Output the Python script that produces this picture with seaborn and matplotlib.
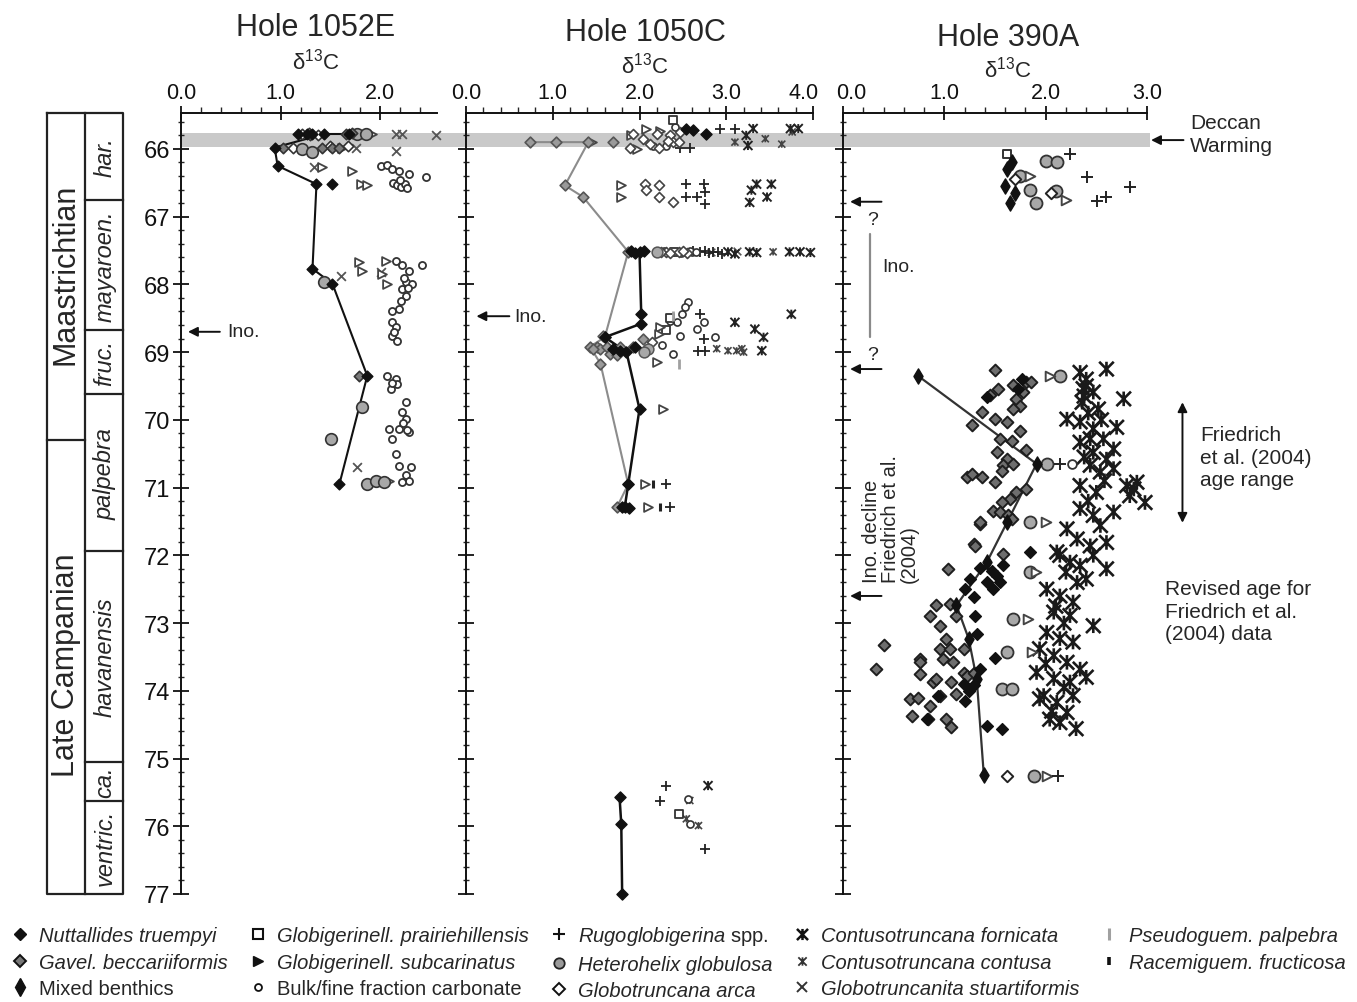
import matplotlib
matplotlib.use("Agg")
import matplotlib.pyplot as plt
import matplotlib.transforms as mtransforms
from matplotlib.lines import Line2D
from matplotlib.path import Path
from matplotlib.patches import Rectangle
from matplotlib.ticker import MultipleLocator, FormatStrFormatter
import pandas as pd
import seaborn as sns

# ----------------------------------------------------------------- data
# every point is (delta13C permil, age Ma)
# ---- Hole 1052E
e1052_nutt_line = [(1.69, 65.78), (1.44, 65.78), (0.94, 65.98), (0.97, 66.25), (1.36, 66.52),
                   (1.32, 67.77), (1.52, 67.99), (1.87, 69.35), (1.59, 70.95)]
e1052_nutt_other = [(1.17, 65.78), (1.26, 65.78), (1.32, 65.78), (1.52, 66.52)]
e1052_gavel = [(1.02, 65.98), (1.66, 65.78), (1.72, 65.76), (1.42, 65.98), (1.52, 65.98),
               (1.59, 65.98), (1.79, 69.35), (1.30, 65.80)]
e1052_hetero = [(1.21, 66.00), (1.32, 66.05), (1.44, 67.97), (1.82, 69.81), (1.51, 70.28),
                (1.87, 70.95), (1.96, 70.90), (2.04, 70.92), (1.77, 65.78), (1.86, 65.78)]
e1052_subcar = [(1.92, 65.78), (1.42, 66.27), (1.72, 66.32), (1.81, 66.52), (1.87, 66.54),
                (1.79, 67.67), (1.82, 67.80), (2.06, 67.65), (2.02, 67.85), (2.07, 67.99),
                (2.09, 70.90), (1.62, 65.98)]
e1052_bulk = [(2.01, 66.25), (2.07, 66.24), (2.12, 66.30), (2.19, 66.33), (2.29, 66.37),
              (2.46, 66.41), (2.13, 66.50), (2.17, 66.54), (2.21, 66.56), (2.25, 66.52),
              (2.27, 66.57), (2.20, 66.46), (2.16, 67.65), (2.22, 67.72), (2.42, 67.72),
              (2.29, 67.80), (2.26, 67.97), (2.32, 68.00), (2.22, 68.07), (2.26, 68.17),
              (2.21, 68.24), (2.28, 68.05), (2.24, 67.90), (2.12, 68.39), (2.19, 68.37),
              (2.12, 68.56), (2.16, 68.63), (2.12, 68.76), (2.17, 68.83), (2.14, 68.70),
              (2.07, 69.35), (2.16, 69.40), (2.11, 69.54), (2.17, 69.47), (2.12, 69.45),
              (2.26, 69.74), (2.22, 69.89), (2.26, 69.99), (2.19, 70.13), (2.29, 70.18),
              (2.09, 70.13), (2.12, 70.28), (2.23, 70.05), (2.27, 70.15), (2.16, 70.50),
              (2.19, 70.68), (2.31, 70.70), (2.26, 70.82), (2.29, 70.90), (2.22, 70.92)]
e1052_stuart = [(2.16, 65.78), (2.22, 65.78), (2.56, 65.80), (1.76, 65.98), (2.16, 66.03),
                (1.34, 66.27), (1.61, 67.87), (2.01, 67.82), (1.77, 70.70)]
e1052_arca = [(1.21, 65.78), (1.28, 65.76), (1.38, 65.79), (1.12, 65.98), (1.50, 65.96),
              (1.68, 65.96)]

# ---- Hole 1050C
c1050_nutt_line = [(2.00, 67.52), (2.02, 68.44), (2.02, 68.58), (1.60, 68.78), (1.85, 69.00),
                   (2.00, 69.84), (1.87, 70.95), (1.83, 71.29)]
c1050_nutt_line_low = [(1.77, 75.57), (1.79, 75.97), (1.80, 77.00)]
c1050_nutt_other = [(1.90, 67.50), (1.95, 67.53), (2.05, 67.51), (2.54, 65.70), (2.62, 65.72),
                    (2.77, 65.78), (1.70, 68.95), (1.78, 68.98), (1.95, 68.93), (1.80, 71.29),
                    (1.88, 71.30)]
c1050_gavel_line = [(0.74, 65.90), (1.04, 65.90), (1.41, 65.90), (1.14, 66.54), (1.35, 66.71),
                    (1.87, 67.52), (1.60, 68.78), (1.43, 68.92), (1.55, 69.17), (1.87, 70.95),
                    (1.74, 71.29)]
c1050_gavel_other = [(1.70, 65.90), (1.51, 68.93), (1.54, 68.95), (1.62, 68.93), (1.70, 68.98),
                     (1.77, 68.93), (1.58, 68.76), (1.66, 69.03), (1.74, 69.05), (1.93, 68.93),
                     (2.04, 68.80), (1.46, 68.95)]
c1050_arca = [(1.93, 65.78), (2.04, 65.85), (2.20, 65.78), (2.22, 65.98), (2.35, 65.80),
              (2.39, 65.90), (2.47, 65.75), (1.89, 65.98), (2.12, 65.93), (2.33, 65.88),
              (2.45, 65.90), (2.06, 66.52), (2.22, 66.54), (2.08, 66.61), (2.22, 66.71),
              (2.39, 66.79), (2.30, 67.52), (2.14, 68.85), (2.55, 67.53), (2.25, 67.52),
              (2.35, 67.53), (2.45, 67.52), (2.50, 67.51)]
c1050_subcar = [(2.08, 65.70), (2.24, 65.73), (1.90, 65.80), (1.97, 66.00), (1.79, 66.54),
                (1.79, 66.71), (2.25, 67.52), (2.24, 68.63), (2.22, 68.73), (2.20, 69.15),
                (2.27, 69.84), (2.06, 70.95), (2.10, 71.29), (1.45, 65.90)]
c1050_prairie = [(2.39, 65.58), (2.31, 68.68), (2.45, 75.82), (2.40, 67.52), (2.35, 68.50)]
c1050_bulk = [(2.41, 65.68), (2.56, 68.26), (2.52, 68.34), (2.49, 68.44), (2.43, 68.56),
              (2.35, 68.54), (2.47, 68.76), (2.87, 68.78), (2.74, 68.56), (2.66, 68.66),
              (2.39, 69.03), (2.26, 68.90), (2.58, 75.97), (2.56, 75.60), (2.60, 67.52),
              (2.15, 65.95), (2.30, 65.95), (2.28, 67.50), (2.38, 67.52), (2.48, 67.53),
              (2.58, 67.50), (2.65, 67.52)]
c1050_rugo = [(2.93, 65.70), (3.10, 65.70), (2.47, 65.98), (2.58, 65.98), (2.54, 66.52),
              (2.74, 66.52), (2.54, 66.71), (2.66, 66.71), (2.76, 66.64), (2.76, 66.81),
              (2.70, 67.52), (2.85, 67.52), (2.95, 67.55), (2.75, 67.50), (2.80, 67.53),
              (2.90, 67.52), (2.62, 67.51), (2.70, 68.44), (2.74, 68.80), (2.76, 68.98),
              (2.68, 68.98), (2.31, 70.95), (2.35, 71.29), (2.31, 75.40), (2.24, 75.62),
              (2.75, 76.34)]
c1050_hetero = [(2.10, 68.95), (2.05, 69.00), (2.20, 67.52)]
c1050_fornicata = [(3.31, 65.70), (3.74, 65.70), (3.83, 65.70), (3.23, 65.80), (3.25, 65.95),
                   (3.35, 66.52), (3.52, 66.52), (3.29, 66.61), (3.47, 66.71), (3.27, 66.79),
                   (3.02, 67.52), (3.10, 67.55), (3.27, 67.52), (3.35, 67.53), (3.73, 67.52),
                   (3.85, 67.52), (3.97, 67.53), (3.10, 68.56), (3.33, 68.66), (3.43, 68.78),
                   (3.75, 68.44), (3.41, 68.98), (2.79, 75.40)]
c1050_contusa = [(3.10, 65.90), (3.45, 65.85), (3.64, 65.93), (3.76, 65.75), (3.54, 67.52),
                 (2.89, 68.95), (3.02, 68.98), (3.12, 68.98), (3.18, 68.95), (3.20, 69.00),
                 (2.58, 75.62), (2.68, 75.99), (2.54, 75.89)]
c1050_stuart = [(3.12, 67.50), (2.82, 67.52)]
c1050_pseudo = [(2.45, 69.17), (2.39, 68.46)]
c1050_racemi = [(2.16, 70.95), (2.24, 71.29)]

# ---- Hole 390A
a390_mixed_line = [(0.74, 69.35), (1.91, 70.65), (1.62, 71.51), (1.42, 72.10), (1.12, 72.74),
                   (1.24, 73.23), (1.32, 73.83), (1.39, 75.25)]
a390_mixed_other = [(1.67, 66.20), (1.62, 66.30), (1.60, 66.55), (1.65, 66.80), (1.70, 66.65)]
a390_nutt = [(1.25, 72.35), (1.29, 72.62), (1.30, 72.89), (1.20, 72.50), (1.32, 73.16),
             (1.50, 73.51), (1.19, 73.90), (1.29, 73.92), (1.24, 74.00), (1.20, 74.15),
             (0.94, 74.07), (0.83, 74.42), (1.42, 74.52), (1.57, 74.56), (1.35, 73.68),
             (1.85, 71.95), (1.47, 72.23), (1.52, 72.30), (1.42, 72.40), (1.55, 72.40),
             (1.48, 72.50), (1.35, 72.18), (1.58, 72.15), (1.77, 69.40), (1.73, 69.54),
             (1.42, 69.67)]
a390_gavel = [(1.50, 69.27), (1.53, 69.54), (1.45, 69.64), (1.68, 69.49), (1.71, 69.69),
              (1.78, 69.59), (1.81, 69.44), (1.86, 69.44), (1.75, 69.79), (1.68, 69.84),
              (1.37, 69.89), (1.50, 69.99), (1.62, 70.03), (1.27, 70.08), (1.75, 70.16),
              (1.55, 70.28), (1.67, 70.31), (1.81, 70.45), (1.52, 70.48), (1.62, 70.58),
              (1.58, 70.67), (1.68, 70.65), (1.57, 70.75), (1.22, 70.85), (1.27, 70.80),
              (1.37, 70.85), (1.50, 70.92), (1.81, 71.02), (1.71, 71.07), (1.65, 71.17),
              (1.57, 71.22), (1.48, 71.34), (1.55, 71.36), (1.63, 71.41), (1.67, 71.46),
              (1.35, 71.54), (1.29, 71.83), (1.58, 71.98), (1.35, 71.51), (1.30, 71.86),
              (1.04, 72.20), (0.92, 72.74), (0.86, 72.89), (0.40, 73.33), (0.33, 73.68),
              (0.76, 73.53), (0.76, 73.58), (0.99, 73.53), (1.09, 73.58), (0.96, 73.38),
              (1.02, 73.23), (0.76, 73.75), (0.66, 74.12), (0.74, 74.10), (0.68, 74.37),
              (0.86, 74.22), (0.84, 74.42), (1.02, 74.42), (1.07, 74.54), (1.12, 74.05),
              (0.96, 74.07), (0.89, 73.87), (1.07, 73.87), (1.19, 73.73), (1.22, 73.78),
              (1.06, 72.72), (0.96, 73.04), (1.12, 72.89), (1.06, 73.38), (0.92, 73.82),
              (1.19, 73.38), (1.29, 73.73)]
a390_hetero = [(2.14, 69.35), (2.01, 70.65), (1.85, 71.51), (1.85, 72.25), (1.68, 72.94),
               (1.62, 73.43), (1.57, 73.97), (1.67, 73.97), (1.88, 75.26), (1.75, 66.40),
               (1.85, 66.60), (1.90, 66.80), (2.10, 66.62), (2.00, 66.18), (2.11, 66.20)]
a390_subcar = [(2.04, 69.35), (2.00, 71.51), (1.83, 72.94), (1.87, 73.43), (2.01, 75.26),
               (1.85, 66.40), (2.20, 66.75), (1.90, 72.25)]
a390_bulk = [(2.26, 70.65)]
a390_rugo = [(2.14, 70.65), (2.12, 75.26), (2.24, 66.07), (2.41, 66.41), (2.51, 66.77),
             (2.60, 66.71), (2.83, 66.56)]
a390_arca = [(1.62, 75.26), (1.70, 66.45), (2.05, 66.65)]
a390_prairie = [(1.62, 66.07)]
a390_fornicata = [(2.34, 69.30), (2.40, 69.40), (2.60, 69.25), (2.37, 69.54), (2.47, 69.59),
                  (2.36, 69.74), (2.77, 69.69), (2.52, 69.84), (2.21, 69.99), (2.34, 70.03),
                  (2.70, 70.11), (2.47, 70.13), (2.44, 70.28), (2.57, 70.28), (2.34, 70.33),
                  (2.67, 70.43), (2.47, 70.48), (2.60, 70.58), (2.44, 70.67), (2.54, 70.77),
                  (2.67, 70.72), (2.34, 70.97), (2.50, 71.07), (2.80, 70.97), (2.90, 70.92),
                  (2.98, 71.22), (2.83, 71.12), (2.87, 71.02), (2.34, 71.31), (2.47, 71.41),
                  (2.67, 71.36), (2.21, 71.61), (2.31, 71.76), (2.54, 71.56), (2.60, 71.81),
                  (2.44, 71.86), (2.14, 72.00), (2.24, 72.10), (2.34, 72.15), (2.47, 72.00),
                  (2.60, 72.20), (2.11, 71.95), (2.31, 72.40), (2.01, 72.50), (2.14, 72.60),
                  (2.27, 72.69), (2.08, 72.84), (2.24, 72.89), (2.47, 73.04), (2.01, 73.14),
                  (2.14, 73.23), (2.27, 73.28), (1.94, 73.38), (2.08, 73.48), (2.21, 73.58),
                  (2.34, 73.68), (1.91, 73.73), (2.08, 73.82), (2.24, 73.87), (2.40, 73.80),
                  (1.98, 74.07), (2.11, 74.17), (2.27, 74.07), (1.94, 74.12), (2.04, 74.42),
                  (2.14, 74.47), (2.30, 74.56), (2.21, 74.32), (2.40, 69.50), (2.38, 69.65),
                  (2.42, 69.90), (2.55, 70.00), (2.38, 70.55), (2.58, 70.90), (2.42, 71.20),
                  (2.20, 72.25), (2.40, 72.35), (2.10, 72.75), (2.18, 73.00), (2.06, 74.30),
                  (2.18, 73.95), (2.00, 73.60)]

# stratigraphy (ages of boundaries, Ma)
stage_names = ["Maastrichtian", "Late Campanian"]
stage_bounds = [65.47, 70.30, 77.0]
zone_names = ["har.", "mayaroen.", "fruc.", "palpebra", "havanensis", "ca.", "ventric."]
zone_bounds = [65.47, 66.75, 68.67, 69.62, 71.94, 75.05, 75.62, 77.0]

hole_titles = ["Hole 1052E", "Hole 1050C", "Hole 390A"]
x_max = [2.57, 4.0, 3.0]
deccan_band = (65.76, 65.97)
age_top, age_bottom = 65.47, 77.0

legend_labels = ["Nuttallides truempyi", "Gavel. beccariiformis", "Mixed benthics",
                 "Globigerinell. prairiehillensis", "Globigerinell. subcarinatus",
                 "Bulk/fine fraction carbonate", r"$\mathit{Rugoglobigerina}$ spp.",
                 "Heterohelix globulosa", "Globotruncana arca", "Contusotruncana fornicata",
                 "Contusotruncana contusa", "Globotruncanita stuartiformis",
                 "Pseudoguem. palpebra", "Racemiguem. fructicosa"]
upright_labels = {"Mixed benthics", "Bulk/fine fraction carbonate",
                  r"$\mathit{Rugoglobigerina}$ spp."}

# ----------------------------------------------------------------- style
sns.set_style("white")
plt.rcParams["font.family"] = ["Liberation Sans", "DejaVu Sans"]
plt.rcParams["mathtext.fontset"] = "custom"
plt.rcParams["mathtext.rm"] = "Liberation Sans"
plt.rcParams["mathtext.it"] = "Liberation Sans:italic"
plt.rcParams["mathtext.bf"] = "Liberation Sans:bold"

W, H = 1357, 1003
fig = plt.figure(figsize=(W / 100, H / 100), dpi=100)
fig.patch.set_facecolor("white")

TOP_PX, BOT_PX = 114, 895


def fx(px):
    return px / W


def fy(py):
    return 1 - py / H


def rect(x0, x1):
    return [x0 / W, 1 - BOT_PX / H, (x1 - x0) / W, (BOT_PX - TOP_PX) / H]


# "zhe"-shaped marker: an X with a vertical bar through the centre
zhe = Path([(-1, -1), (1, 1), (-1, 1), (1, -1), (0, -1), (0, 1)],
           [Path.MOVETO, Path.LINETO, Path.MOVETO, Path.LINETO, Path.MOVETO, Path.LINETO])

EDGE = "#1e1e1e"
GRAY = "#8c8c8c"


def scat(ax, pts, marker, s, fc="none", ec=EDGE, lw=1.0, z=3):
    df = pd.DataFrame(pts, columns=["d13c", "age"])
    if marker in ("+", "x", "|"):
        sns.scatterplot(data=df, x="d13c", y="age", ax=ax, marker=marker, s=s,
                        color=ec, linewidth=lw, legend=False, zorder=z, clip_on=False)
    else:
        sns.scatterplot(data=df, x="d13c", y="age", ax=ax, marker=marker, s=s,
                        color=ec, facecolor=fc, edgecolor=ec, linewidth=lw,
                        legend=False, zorder=z, clip_on=False)


def line(ax, pts, color, lw):
    df = pd.DataFrame(pts, columns=["d13c", "age"])
    sns.lineplot(data=df, x="d13c", y="age", ax=ax, sort=False, estimator=None,
                 color=color, linewidth=lw, legend=False, zorder=2)


def setup(ax, xmax, show_y):
    ax.set_xlim(0, xmax)
    ax.set_ylim(age_bottom, age_top)
    ax.set_facecolor("none")
    ax.grid(False)
    for s in ("bottom", "right"):
        ax.spines[s].set_visible(False)
    for s in ("left", "top"):
        ax.spines[s].set_linewidth(1.4)
        ax.spines[s].set_color("#111111")
    ax.xaxis.tick_top()
    ax.xaxis.set_major_locator(MultipleLocator(1.0))
    ax.xaxis.set_minor_locator(MultipleLocator(0.2))
    ax.xaxis.set_major_formatter(FormatStrFormatter("%.1f"))
    ax.yaxis.set_major_locator(MultipleLocator(1))
    ax.yaxis.set_minor_locator(MultipleLocator(0.2))
    ax.tick_params(axis="x", which="major", direction="inout", length=10, width=1.3,
                   labelsize=15.5, pad=2, top=True, bottom=False, labeltop=True,
                   labelbottom=False, colors="#111111")
    ax.tick_params(axis="x", which="minor", direction="out", length=4, width=1.0,
                   top=True, bottom=False)
    ax.tick_params(axis="y", which="major", direction="inout", length=11, width=1.3,
                   labelsize=17, pad=2, left=True, right=False, labelleft=show_y,
                   colors="#111111")
    ax.tick_params(axis="y", which="minor", direction="inout", length=5, width=1.0,
                   left=True, right=False)
    ax.set_xlabel("")
    ax.set_ylabel("")


ax1 = fig.add_axes(rect(181, 437))
ax2 = fig.add_axes(rect(466, 813))
ax3 = fig.add_axes(rect(843, 1147))
axcol = fig.add_axes(rect(47, 123))

# ---- Hole 1052E
line(ax1, e1052_nutt_line, "#111111", 1.5)
scat(ax1, e1052_stuart, "x", 40, ec="#555555", lw=1.3)
scat(ax1, e1052_bulk, "o", 26, fc="white", ec="#333333", lw=1.3)
scat(ax1, e1052_subcar, ">", 40, fc="white", ec="#444444", lw=1.3)
scat(ax1, e1052_arca, "D", 28, fc="white", ec="#333333", lw=1.2)
scat(ax1, e1052_hetero, "o", 70, fc="#a8a8a8", ec="#333333", lw=1.2)
scat(ax1, e1052_gavel, "D", 28, fc="#7a7a7a", ec="#333333", lw=1.2)
scat(ax1, e1052_nutt_line, "D", 30, fc="#111111", ec="#111111")
scat(ax1, e1052_nutt_other, "D", 30, fc="#111111", ec="#111111")

# ---- Hole 1050C
line(ax2, c1050_gavel_line, GRAY, 1.5)
line(ax2, c1050_nutt_line, "#111111", 1.8)
line(ax2, c1050_nutt_line_low, "#111111", 1.8)
scat(ax2, c1050_stuart, "x", 30, ec="#555555", lw=1.2)
scat(ax2, c1050_contusa, zhe, 26, ec="#444444", lw=1.2)
scat(ax2, c1050_fornicata, zhe, 42, ec="#222222", lw=1.4)
scat(ax2, c1050_rugo, "+", 55, ec="#222222", lw=1.3)
scat(ax2, c1050_bulk, "o", 26, fc="white", ec="#333333", lw=1.2)
scat(ax2, c1050_prairie, "s", 30, fc="white", ec="#333333", lw=1.3)
scat(ax2, c1050_subcar, ">", 40, fc="white", ec="#444444", lw=1.3)
scat(ax2, c1050_arca, "D", 26, fc="white", ec="#444444", lw=1.2)
scat(ax2, c1050_hetero, "o", 60, fc="#a8a8a8", ec="#555555", lw=1.1)
scat(ax2, c1050_pseudo, "|", 60, ec="#a0a0a0", lw=2.0)
scat(ax2, c1050_racemi, "|", 40, ec="#222222", lw=2.2)
scat(ax2, c1050_gavel_line, "D", 30, fc="#9a9a9a", ec="#555555", lw=1.2)
scat(ax2, c1050_gavel_other, "D", 30, fc="#9a9a9a", ec="#555555", lw=1.2)
scat(ax2, c1050_nutt_line, "D", 32, fc="#111111", ec="#111111")
scat(ax2, c1050_nutt_line_low, "D", 32, fc="#111111", ec="#111111")
scat(ax2, c1050_nutt_other, "D", 32, fc="#111111", ec="#111111")

# ---- Hole 390A
line(ax3, a390_mixed_line, "#333333", 1.6)
scat(ax3, a390_fornicata, zhe, 110, ec="#1a1a1a", lw=1.9)
scat(ax3, a390_gavel, "D", 36, fc="#6e6e6e", ec="#1e1e1e", lw=1.4)
scat(ax3, a390_nutt, "D", 36, fc="#111111", ec="#111111")
scat(ax3, a390_hetero, "o", 75, fc="#a8a8a8", ec="#333333", lw=1.3)
scat(ax3, a390_subcar, ">", 48, fc="white", ec="#444444", lw=1.4)
scat(ax3, a390_bulk, "o", 40, fc="white", ec="#333333", lw=1.3)
scat(ax3, a390_rugo, "+", 70, ec="#222222", lw=1.4)
scat(ax3, a390_arca, "D", 34, fc="white", ec="#222222", lw=1.4)
scat(ax3, a390_prairie, "s", 40, fc="white", ec="#333333", lw=1.4)
scat(ax3, a390_mixed_line, "d", 60, fc="#111111", ec="#111111")
scat(ax3, a390_mixed_other, "d", 60, fc="#111111", ec="#111111")

for ax, xm, show in zip((ax1, ax2, ax3), x_max, (True, False, False)):
    setup(ax, xm, show)

# ---- Deccan warming band across the three panels
band_tr = mtransforms.blended_transform_factory(fig.transFigure, ax1.transData)
fig.add_artist(Rectangle((fx(181), deccan_band[0]), fx(1150) - fx(181),
                         deccan_band[1] - deccan_band[0], transform=band_tr,
                         facecolor="#c9c9c9", edgecolor="none", zorder=-1))

# ---- titles
for title, cx, ty, dy in zip(hole_titles, (316, 645, 1008), (28, 33, 38), (62, 66, 70)):
    fig.text(fx(cx), fy(ty), title, ha="center", va="center", fontsize=22)
    fig.text(fx(cx), fy(dy), r"δ$^{13}$C", ha="center", va="center", fontsize=16)

# ---- stratigraphic column
axcol.set_xlim(0, 1)
axcol.set_ylim(age_bottom, age_top)
axcol.axis("off")
kw = dict(color="#222222", lw=1.6, clip_on=False, solid_capstyle="projecting")
axcol.plot([0, 1, 1, 0, 0], [age_top, age_top, age_bottom, age_bottom, age_top], **kw)
axcol.plot([0.5, 0.5], [age_top, age_bottom], **kw)
for b in stage_bounds[1:-1]:
    axcol.plot([0, 0.5], [b, b], **kw)
for b in zone_bounds[1:-1]:
    axcol.plot([0.5, 1], [b, b], **kw)
for name, a0, a1 in zip(stage_names, stage_bounds[:-1], stage_bounds[1:]):
    axcol.text(0.25, (a0 + a1) / 2 - 0.05, name, rotation=90, ha="center", va="center",
               fontsize=22)
for name, a0, a1 in zip(zone_names, zone_bounds[:-1], zone_bounds[1:]):
    axcol.text(0.76, (a0 + a1) / 2, name, rotation=90, ha="center", va="center",
               fontsize=17, fontstyle="italic")

# ---- annotations
arrow = dict(arrowstyle="-|>", color="#111111", lw=1.4, mutation_scale=14,
             shrinkA=0, shrinkB=0)
ax1.annotate("", xy=(0.07, 68.70), xytext=(0.39, 68.70), arrowprops=arrow,
             annotation_clip=False)
ax1.text(0.46, 68.70, "Ino.", ha="left", va="center", fontsize=14)
ax2.annotate("", xy=(0.12, 68.47), xytext=(0.50, 68.47), arrowprops=arrow,
             annotation_clip=False)
ax2.text(0.56, 68.47, "Ino.", ha="left", va="center", fontsize=14)

for a in (66.78, 69.25, 72.60):
    ax3.annotate("", xy=(0.07, a), xytext=(0.38, a), arrowprops=arrow,
                 annotation_clip=False)
ax3.text(0.29, 67.04, "?", ha="center", va="center", fontsize=14)
ax3.text(0.29, 69.04, "?", ha="center", va="center", fontsize=14)
ax3.plot([0.27, 0.27], [67.25, 68.78], color="#8a8a8a", lw=1.6)
ax3.text(0.39, 67.74, "Ino.", ha="left", va="center", fontsize=14)
ax3.text(0.47, 72.40, "Ino. decline\nFriedrich et al.\n(2004)", rotation=90,
         ha="center", va="bottom", multialignment="left", fontsize=14.5, linespacing=1.0)

ax3.annotate("", xy=(3.04, 65.87), xytext=(3.36, 65.87), arrowprops=arrow,
             annotation_clip=False)
fig.text(fx(1190), fy(135), "Deccan\nWarming", ha="left", va="center", fontsize=15,
         linespacing=1.25)
ax3.annotate("", xy=(3.35, 69.74), xytext=(3.35, 71.52),
             arrowprops=dict(arrowstyle="<|-|>", color="#111111", lw=1.4,
                             mutation_scale=14, shrinkA=0, shrinkB=0),
             annotation_clip=False)
fig.text(fx(1200), fy(458), "Friedrich\net al. (2004)\nage range", ha="left", va="center",
         fontsize=15, linespacing=1.25)
fig.text(fx(1165), fy(612), "Revised age for\nFriedrich et al.\n(2004) data", ha="left",
         va="center", fontsize=15, linespacing=1.25)

# ---- legend
handle_styles = [
    dict(marker="D", mfc="#111111", mec="#111111", ms=6),
    dict(marker="D", mfc="#777777", mec="#111111", ms=6, mew=1.4),
    dict(marker="d", mfc="#111111", mec="#111111", ms=9),
    dict(marker="s", mfc="white", mec="#111111", ms=6.5, mew=1.5),
    dict(marker=">", mfc="#111111", mec="#111111", ms=7),
    dict(marker="o", mfc="white", mec="#111111", ms=5, mew=1.3),
    dict(marker="+", color="#111111", ms=9, mew=1.5),
    dict(marker="o", mfc="#9a9a9a", mec="#222222", ms=7.5, mew=1.3),
    dict(marker="D", mfc="white", mec="#111111", ms=6.5, mew=1.4),
    dict(marker=zhe, color="#111111", mfc="none", mec="#111111", ms=8, mew=1.8),
    dict(marker=zhe, color="#333333", mfc="none", mec="#333333", ms=6, mew=1.3),
    dict(marker="x", color="#333333", ms=7, mew=1.4),
    dict(marker="|", color="#a0a0a0", ms=9, mew=2.2),
    dict(marker="|", color="#111111", ms=6, mew=2.6),
]
handles = [Line2D([], [], linestyle="none", **st) for st in handle_styles]
leg = fig.legend(handles, legend_labels, loc="upper left",
                 bbox_to_anchor=(fx(10), fy(925)), ncol=5, frameon=False, fontsize=14.5,
                 handlelength=1.0, handletextpad=0.45, columnspacing=0.98,
                 labelspacing=0.38, borderpad=0, borderaxespad=0)
for t in leg.get_texts():
    if t.get_text() not in upright_labels:
        t.set_fontstyle("italic")

# nudge the two touching tick labels "4.0" and "0.0" apart
fig.canvas.draw()
for ax, val, dx in ((ax2, 4.0, -7), (ax3, 0.0, 6)):
    for tk in ax.xaxis.get_major_ticks():
        if abs(tk.get_loc() - val) < 1e-6:
            tk.label2.set_transform(tk.label2.get_transform() +
                                    mtransforms.ScaledTranslation(dx / 72, 0,
                                                                  fig.dpi_scale_trans))

fig.savefig("out.png", dpi=100, facecolor="white")
